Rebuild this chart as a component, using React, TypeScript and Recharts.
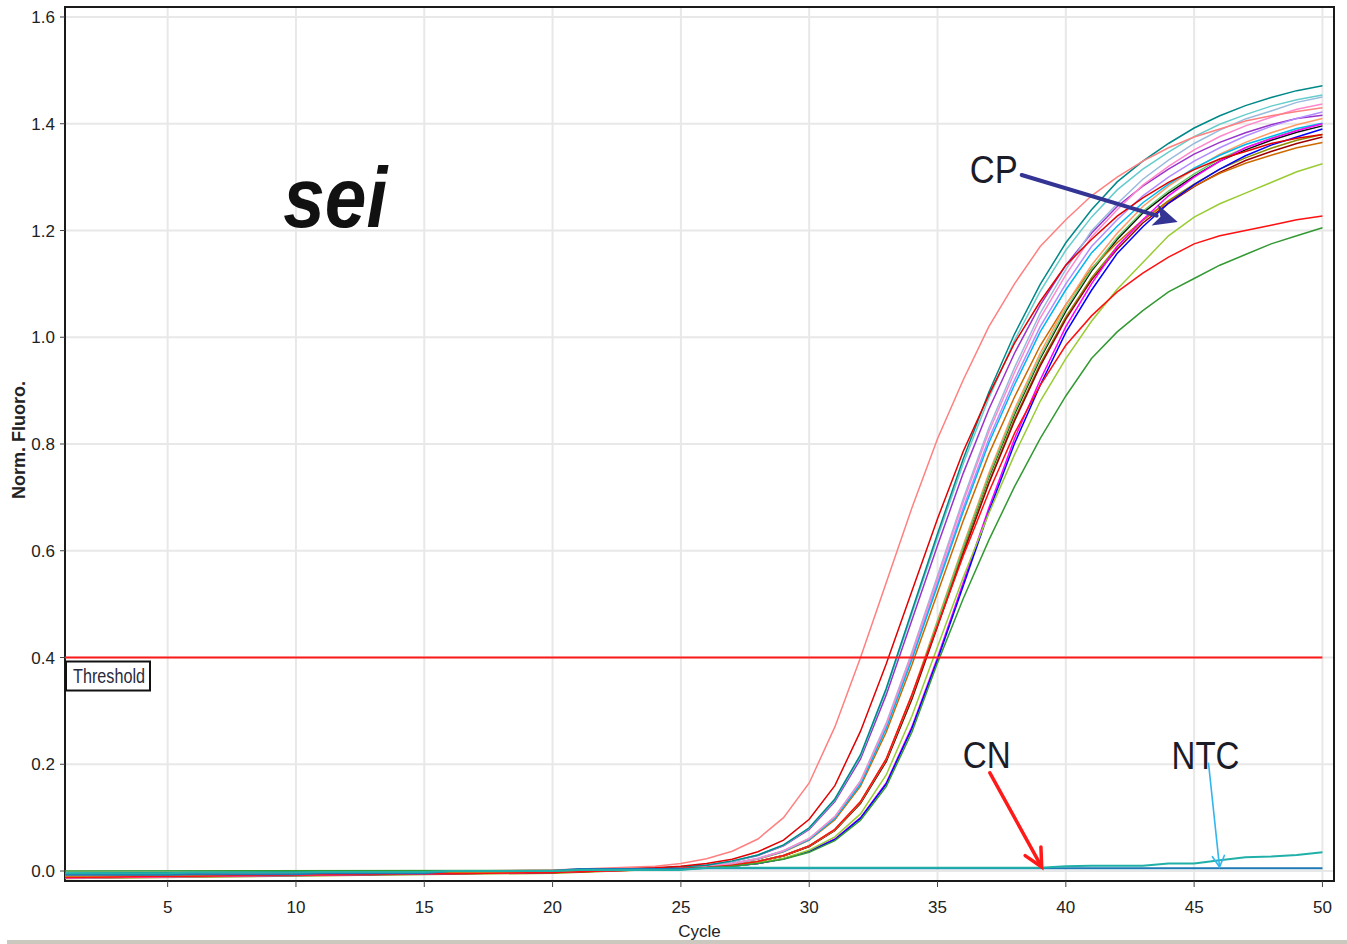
import React from 'react';
import {
  LineChart,
  Line,
  XAxis,
  YAxis,
  CartesianGrid,
  ReferenceLine,
  ReferenceArea,
  ReferenceDot,
} from 'recharts';

const FONT = '"Liberation Sans", Arial, Helvetica, sans-serif';

// ---------- axes ----------
const cycleTicks = [5, 10, 15, 20, 25, 30, 35, 40, 45, 50];
const fluoroTicks = [0, 0.2, 0.4, 0.6, 0.8, 1.0, 1.2, 1.4, 1.6];
const cycleDomain = [1, 50.45];
const fluoroDomain = [-0.0187, 1.6187];
const thresholdValue = 0.4;

// ---------- cycles ----------
const allCycles = [
  1, 2, 3, 4, 5, 6, 7, 8, 9, 10, 11, 12, 13, 14, 15, 16, 17, 18, 19, 20, 21, 22, 23, 24, 25,
  26, 27, 28, 29, 30, 31, 32, 33, 34, 35, 36, 37, 38, 39, 40, 41, 42, 43, 44, 45, 46, 47, 48, 49, 50,
];
const baselineCycles = [1, 20];
const rampCycles = [
  24, 25, 26, 27, 28, 29, 30, 31, 32, 33, 34, 35, 36, 37, 38, 39, 40, 41, 42, 43, 44, 45, 46, 47, 48, 49, 50,
];

// ---------- sample curves (values at rampCycles) ----------
const blackRamp = [0.003, 0.005, 0.007, 0.011, 0.018, 0.029, 0.047, 0.077, 0.129, 0.208, 0.327, 0.465, 0.604, 0.738, 0.856, 0.96, 1.049, 1.124, 1.183, 1.233, 1.27, 1.302, 1.33, 1.351, 1.369, 1.384, 1.396];
const oliveRamp = [0.003, 0.005, 0.007, 0.011, 0.018, 0.028, 0.046, 0.076, 0.127, 0.206, 0.323, 0.46, 0.597, 0.729, 0.847, 0.95, 1.038, 1.111, 1.17, 1.219, 1.256, 1.287, 1.315, 1.336, 1.354, 1.369, 1.38];
const darkRedRamp = [0.003, 0.005, 0.007, 0.011, 0.018, 0.028, 0.046, 0.076, 0.127, 0.205, 0.322, 0.458, 0.595, 0.726, 0.843, 0.946, 1.034, 1.107, 1.165, 1.214, 1.251, 1.282, 1.309, 1.331, 1.348, 1.363, 1.375];
const brownRamp = [0.004, 0.006, 0.009, 0.014, 0.022, 0.036, 0.058, 0.096, 0.159, 0.26, 0.386, 0.521, 0.656, 0.781, 0.888, 0.984, 1.061, 1.129, 1.177, 1.22, 1.254, 1.283, 1.307, 1.326, 1.341, 1.355, 1.365];
const purpleRamp = [0.005, 0.0075, 0.011, 0.018, 0.029, 0.047, 0.078, 0.13, 0.21, 0.33, 0.47, 0.61, 0.745, 0.865, 0.97, 1.06, 1.135, 1.195, 1.245, 1.283, 1.315, 1.343, 1.365, 1.383, 1.398, 1.41, 1.416];
const lavenderRamp = [0.004, 0.006, 0.009, 0.014, 0.023, 0.037, 0.06, 0.1, 0.165, 0.27, 0.4, 0.54, 0.68, 0.81, 0.92, 1.02, 1.1, 1.17, 1.22, 1.265, 1.3, 1.33, 1.355, 1.377, 1.395, 1.41, 1.422];
const peachRamp = [0.0035, 0.005, 0.0075, 0.011, 0.018, 0.029, 0.047, 0.078, 0.13, 0.21, 0.33, 0.47, 0.61, 0.745, 0.865, 0.97, 1.06, 1.135, 1.195, 1.245, 1.283, 1.315, 1.343, 1.365, 1.383, 1.398, 1.41];
const lightGreenRamp = [0.003, 0.005, 0.007, 0.011, 0.018, 0.029, 0.047, 0.077, 0.129, 0.209, 0.328, 0.467, 0.606, 0.74, 0.859, 0.963, 1.053, 1.127, 1.187, 1.236, 1.274, 1.306, 1.334, 1.355, 1.373, 1.388, 1.4];
const cyanRamp = [0.004, 0.006, 0.009, 0.014, 0.023, 0.037, 0.059, 0.099, 0.163, 0.267, 0.396, 0.535, 0.673, 0.802, 0.911, 1.01, 1.089, 1.158, 1.208, 1.252, 1.287, 1.317, 1.341, 1.361, 1.376, 1.391, 1.401];
const lightBlueRamp = [0.004, 0.006, 0.009, 0.014, 0.024, 0.038, 0.061, 0.102, 0.169, 0.277, 0.41, 0.553, 0.697, 0.83, 0.943, 1.045, 1.127, 1.199, 1.25, 1.296, 1.332, 1.363, 1.388, 1.409, 1.424, 1.44, 1.45];
const pinkRamp = [0.004, 0.006, 0.009, 0.014, 0.023, 0.038, 0.061, 0.102, 0.168, 0.274, 0.406, 0.548, 0.691, 0.823, 0.934, 1.036, 1.117, 1.188, 1.239, 1.285, 1.32, 1.351, 1.376, 1.396, 1.412, 1.427, 1.437];
const lightCyanRamp = [0.005, 0.008, 0.011, 0.018, 0.03, 0.048, 0.08, 0.133, 0.215, 0.338, 0.482, 0.625, 0.763, 0.886, 0.994, 1.086, 1.163, 1.225, 1.276, 1.315, 1.347, 1.376, 1.399, 1.417, 1.433, 1.445, 1.454];
const tealRamp = [0.005, 0.008, 0.011, 0.019, 0.03, 0.049, 0.081, 0.135, 0.218, 0.342, 0.487, 0.632, 0.772, 0.897, 1.006, 1.099, 1.177, 1.239, 1.291, 1.33, 1.363, 1.392, 1.415, 1.434, 1.449, 1.462, 1.471];
const magentaRamp = [0.003, 0.004, 0.006, 0.009, 0.014, 0.023, 0.037, 0.06, 0.1, 0.165, 0.27, 0.4, 0.54, 0.68, 0.81, 0.92, 1.02, 1.1, 1.17, 1.22, 1.265, 1.3, 1.33, 1.355, 1.372, 1.387, 1.4];
const blueRamp = [0.003, 0.004, 0.006, 0.009, 0.014, 0.023, 0.037, 0.059, 0.099, 0.163, 0.267, 0.396, 0.534, 0.673, 0.801, 0.91, 1.009, 1.088, 1.157, 1.207, 1.251, 1.286, 1.315, 1.34, 1.36, 1.375, 1.39];
const salmonRamp = [0.009, 0.014, 0.023, 0.037, 0.06, 0.1, 0.165, 0.27, 0.4, 0.54, 0.68, 0.81, 0.92, 1.02, 1.1, 1.17, 1.22, 1.265, 1.3, 1.33, 1.355, 1.375, 1.39, 1.405, 1.415, 1.423, 1.43];
const redEarlyRamp = [0.006, 0.009, 0.014, 0.022, 0.036, 0.058, 0.097, 0.16, 0.262, 0.388, 0.524, 0.66, 0.786, 0.892, 0.989, 1.067, 1.135, 1.183, 1.227, 1.261, 1.29, 1.314, 1.334, 1.348, 1.363, 1.373, 1.38];
const yellowGreenRamp = [0.003, 0.004, 0.006, 0.009, 0.015, 0.024, 0.039, 0.064, 0.107, 0.18, 0.29, 0.42, 0.55, 0.67, 0.78, 0.88, 0.96, 1.03, 1.09, 1.14, 1.19, 1.225, 1.25, 1.27, 1.29, 1.31, 1.325];
const redLowRamp = [0.003, 0.005, 0.007, 0.011, 0.018, 0.029, 0.047, 0.078, 0.13, 0.21, 0.33, 0.46, 0.59, 0.71, 0.82, 0.91, 0.985, 1.04, 1.085, 1.12, 1.15, 1.175, 1.19, 1.2, 1.21, 1.22, 1.227];
const greenRamp = [0.003, 0.004, 0.006, 0.009, 0.014, 0.022, 0.035, 0.057, 0.095, 0.158, 0.26, 0.39, 0.51, 0.62, 0.72, 0.81, 0.89, 0.96, 1.01, 1.05, 1.085, 1.11, 1.135, 1.155, 1.175, 1.19, 1.205];

// ---------- baseline values at baselineCycles ----------
const blackBase = [-0.007, 0.0];
const oliveBase = [-0.014, -0.004];
const darkRedBase = [-0.012, -0.003];
const brownBase = [-0.01, -0.002];
const purpleBase = [-0.013, -0.003];
const lavenderBase = [-0.008, -0.001];
const peachBase = [-0.009, -0.001];
const lightGreenBase = [-0.006, 0.0];
const cyanBase = [-0.005, 0.001];
const lightBlueBase = [-0.006, 0.0];
const pinkBase = [-0.013, -0.002];
const lightCyanBase = [-0.006, 0.0];
const tealBase = [-0.004, 0.001];
const magentaBase = [-0.012, -0.002];
const blueBase = [-0.007, -0.001];
const salmonBase = [-0.009, 0.002];
const redEarlyBase = [-0.011, -0.001];
const yellowGreenBase = [-0.011, -0.002];
const redLowBase = [-0.012, -0.003];
const greenBase = [0.0, 0.001];

// ---------- controls (values at allCycles) ----------
const cnValues = [
  -0.007, -0.007, -0.007, -0.007, -0.007, -0.006, -0.006, -0.006, -0.006, -0.006,
  -0.004, -0.004, -0.004, -0.004, -0.004, 0.0, 0.0, 0.0, 0.0, 0.0,
  0.004, 0.004, 0.004, 0.004, 0.004, 0.005, 0.005, 0.005, 0.005, 0.005,
  0.005, 0.005, 0.005, 0.005, 0.005, 0.005, 0.005, 0.005, 0.005, 0.005,
  0.005, 0.005, 0.005, 0.005, 0.005, 0.005, 0.005, 0.005, 0.005, 0.005,
];
const ntcValues = [
  -0.004, -0.004, -0.004, -0.004, -0.004, -0.003, -0.003, -0.003, -0.003, -0.003,
  -0.002, -0.002, -0.002, -0.002, -0.002, 0.0, 0.0, 0.0, 0.0, 0.0,
  0.002, 0.002, 0.002, 0.002, 0.002, 0.006, 0.006, 0.006, 0.006, 0.006,
  0.006, 0.006, 0.006, 0.006, 0.006, 0.006, 0.006, 0.006, 0.006, 0.009,
  0.01, 0.01, 0.01, 0.014, 0.014, 0.02, 0.026, 0.027, 0.03, 0.035,
];

// ---------- series registry ----------
const seriesNames = [
  'black', 'olive', 'darkRed', 'brown', 'purple', 'lavender', 'peach', 'lightGreen', 'cyan', 'lightBlue',
  'pink', 'lightCyan', 'teal', 'magenta', 'blue', 'salmon', 'redEarly', 'yellowGreen', 'redLow', 'green',
];
const seriesColors = [
  '#111111', '#8c8c00', '#a00000', '#cc6a00', '#9933cc', '#b38cff', '#ff9966', '#66cc66', '#00b8ee', '#99bbdd',
  '#ff88cc', '#66cccc', '#008888', '#ff00ff', '#0000ff', '#ff8080', '#e00000', '#99cc33', '#ff1010', '#339933',
];
const seriesRamps = [
  blackRamp, oliveRamp, darkRedRamp, brownRamp, purpleRamp, lavenderRamp, peachRamp, lightGreenRamp, cyanRamp, lightBlueRamp,
  pinkRamp, lightCyanRamp, tealRamp, magentaRamp, blueRamp, salmonRamp, redEarlyRamp, yellowGreenRamp, redLowRamp, greenRamp,
];
const seriesBaselines = [
  blackBase, oliveBase, darkRedBase, brownBase, purpleBase, lavenderBase, peachBase, lightGreenBase, cyanBase, lightBlueBase,
  pinkBase, lightCyanBase, tealBase, magentaBase, blueBase, salmonBase, redEarlyBase, yellowGreenBase, redLowBase, greenBase,
];
const controlNames = ['CN', 'NTC'];
const controlColors = ['#1f78b4', '#20b0a8'];
const controlValues = [cnValues, ntcValues];

// ---------- annotations (data coordinates) ----------
const cpArrow = [{ x: 38.28, y: 1.304 }, { x: 44.36, y: 1.216 }];
const cnArrow = [{ x: 37.04, y: 0.184 }, { x: 39.06, y: 0.0075 }];
const ntcArrow = [{ x: 45.56, y: 0.202 }, { x: 45.99, y: 0.0075 }];
const thresholdSegment = [{ x: 1, y: thresholdValue }, { x: 50, y: thresholdValue }];
const seiPosition = { x: 11.53, y: 1.207 };

const data = allCycles.map((cycle, i) => {
  const row: Record<string, number | null> = { cycle };
  seriesNames.forEach((name, s) => {
    const ri = rampCycles.indexOf(cycle);
    const bi = baselineCycles.indexOf(cycle);
    row[name] = ri >= 0 ? seriesRamps[s][ri] : bi >= 0 ? seriesBaselines[s][bi] : null;
  });
  controlNames.forEach((name, s) => {
    row[name] = controlValues[s][i];
  });
  return row;
});

function makeArrow(
  color: string,
  width: number,
  headLen: number,
  headHalf: number,
  filled: boolean,
  label: string,
  dx: number,
  dy: number,
  fontSize: number,
  textLen: number
) {
  return (p: any) => {
    const { x1, y1, x2, y2 } = p;
    const ang = Math.atan2(y2 - y1, x2 - x1);
    const c = Math.cos(ang);
    const s = Math.sin(ang);
    const bx = x2 - headLen * c;
    const by = y2 - headLen * s;
    const nx = -s * headHalf;
    const ny = c * headHalf;
    const ex = filled ? bx + c * 2 : x2 - c * width * 0.6;
    const ey = filled ? by + s * 2 : y2 - s * width * 0.6;
    return (
      <g>
        <line x1={x1} y1={y1} x2={ex} y2={ey} stroke={color} strokeWidth={width} strokeLinecap="round" />
        {filled ? (
          <polygon
            points={`${x2},${y2} ${bx + nx},${by + ny} ${bx + c * 6},${by + s * 6} ${bx - nx},${by - ny}`}
            fill={color}
          />
        ) : (
          <polyline
            points={`${bx + nx},${by + ny} ${x2},${y2} ${bx - nx},${by - ny}`}
            fill="none"
            stroke={color}
            strokeWidth={width}
            strokeLinecap="round"
          />
        )}
        <text
          x={x1 + dx}
          y={y1 + dy}
          textAnchor="middle"
          fontSize={fontSize}
          fontFamily={FONT}
          fill="#1c1c28"
          textLength={textLen}
          lengthAdjust="spacingAndGlyphs"
        >
          {label}
        </text>
      </g>
    );
  };
}

const cpShape = makeArrow('#343494', 4, 24, 11, true, 'CP', -28, 8, 39, 48);
const cnShape = makeArrow('#ff1a1a', 3.5, 18, 9, false, 'CN', -3, -5, 37, 48);
const ntcShape = makeArrow('#33b5ee', 1.6, 11, 6, false, 'NTC', -3, 6, 38, 68);

const thresholdShape = (p: any) => {
  const { x1, y1, x2, y2 } = p;
  return (
    <g>
      <line x1={x1} y1={y1} x2={x2} y2={y2} stroke="#ff1a1a" strokeWidth={2} />
      <rect x={x1 + 1} y={y1 + 4} width={84} height={29} fill="#ffffff" stroke="#111111" strokeWidth={2} />
      <text
        x={x1 + 44}
        y={y1 + 25}
        textAnchor="middle"
        fontSize={20}
        fontFamily={FONT}
        fill="#2a2a3a"
        textLength={72}
        lengthAdjust="spacingAndGlyphs"
      >
        Threshold
      </text>
    </g>
  );
};

const seiShape = (p: any) => (
  <text
    x={p.cx}
    y={p.cy}
    textAnchor="middle"
    fontSize={85}
    fontWeight="bold"
    fontStyle="italic"
    fontFamily={FONT}
    fill="#111111"
    textLength={104}
    lengthAdjust="spacingAndGlyphs"
  >
    sei
  </text>
);

const XTitle = (props: any) => {
  const vb = props.viewBox || { x: 65, y: 881, width: 1269, height: 40 };
  return (
    <text
      x={vb.x + vb.width / 2}
      y={vb.y + vb.height + 16}
      textAnchor="middle"
      fontSize={17}
      fontFamily={FONT}
      fill="#222"
    >
      Cycle
    </text>
  );
};

const YTitle = (props: any) => {
  const vb = props.viewBox || { x: 0, y: 7, width: 65, height: 874 };
  const cx = vb.x + 19;
  const cy = vb.y + vb.height / 2 - 4;
  return (
    <text
      x={cx}
      y={cy}
      transform={`rotate(-90 ${cx} ${cy})`}
      textAnchor="middle"
      dominantBaseline="central"
      fontSize={18}
      fontWeight="bold"
      fontFamily={FONT}
      fill="#222"
    >
      Norm. Fluoro.
    </text>
  );
};

export default function App() {
  return (
    <div style={{ position: 'absolute', left: 0, top: 0, width: 1347, height: 944, background: '#fff' }}>
      <LineChart
        width={1347}
        height={944}
        data={data}
        margin={{ top: 7, right: 13, bottom: 23, left: 0 }}
      >
        <CartesianGrid stroke="#e8e8e8" strokeWidth={2} />
        <XAxis
          type="number"
          dataKey="cycle"
          domain={cycleDomain}
          ticks={cycleTicks}
          allowDataOverflow
          height={40}
          axisLine={false}
          tickLine={{ stroke: '#444' }}
          tickSize={6}
          tickMargin={14}
          tick={{ fontSize: 17, fill: '#222', fontFamily: FONT }}
          label={<XTitle />}
        />
        <YAxis
          type="number"
          domain={fluoroDomain}
          ticks={fluoroTicks}
          allowDataOverflow
          width={65}
          axisLine={false}
          tickLine={{ stroke: '#444' }}
          tickSize={5}
          tickMargin={5}
          tickFormatter={(v: number) => v.toFixed(1)}
          tick={{ fontSize: 17, fill: '#222', fontFamily: FONT }}
          label={<YTitle />}
        />
        {seriesNames.map((name, s) => (
          <Line
            key={name}
            dataKey={name}
            type="linear"
            stroke={seriesColors[s]}
            strokeWidth={1.5}
            dot={false}
            activeDot={false}
            connectNulls
            isAnimationActive={false}
          />
        ))}
        {controlNames.map((name, s) => (
          <Line
            key={name}
            dataKey={name}
            type="linear"
            stroke={controlColors[s]}
            strokeWidth={2}
            dot={false}
            activeDot={false}
            isAnimationActive={false}
          />
        ))}
        <ReferenceLine segment={thresholdSegment} ifOverflow="visible" shape={thresholdShape} />
        <ReferenceLine segment={cpArrow} ifOverflow="visible" shape={cpShape} />
        <ReferenceLine segment={cnArrow} ifOverflow="visible" shape={cnShape} />
        <ReferenceLine segment={ntcArrow} ifOverflow="visible" shape={ntcShape} />
        <ReferenceDot x={seiPosition.x} y={seiPosition.y} r={0} ifOverflow="visible" shape={seiShape} />
        <ReferenceArea
          x1={cycleDomain[0]}
          x2={cycleDomain[1]}
          y1={fluoroDomain[0]}
          y2={fluoroDomain[1]}
          ifOverflow="visible"
          fill="none"
          fillOpacity={0}
          stroke="#1a1a1a"
          strokeWidth={2}
        />
      </LineChart>
      <div
        style={{
          position: 'absolute',
          left: 7,
          top: 940,
          width: 1340,
          height: 4,
          background: '#cbc8c0',
        }}
      />
    </div>
  );
}
